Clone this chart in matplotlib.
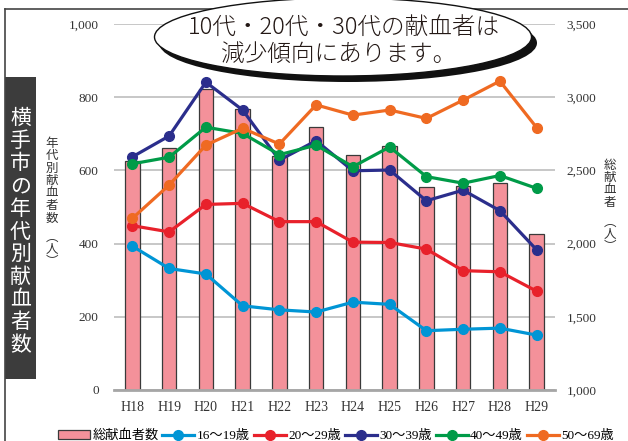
import numpy as np
import matplotlib.pyplot as plt
from matplotlib.patches import Ellipse, Rectangle
from matplotlib.lines import Line2D

plt.rcParams['font.family'] = ['Liberation Serif', 'Noto Sans CJK JP']

years = ['H18', 'H19', 'H20', 'H21', 'H22', 'H23', 'H24', 'H25', 'H26', 'H27', 'H28', 'H29']

# total donors (right axis)
total = [2564, 2650, 3054, 2921, 2600, 2799, 2603, 2667, 2385, 2393, 2412, 2066]

# donors by age group (left axis)
age_16_19 = [393, 332, 317, 230, 219, 213, 240, 234, 162, 166, 169, 150]
age_20_29 = [449, 432, 507, 510, 460, 460, 404, 403, 385, 326, 323, 270]
age_30_39 = [637, 694, 841, 765, 628, 681, 599, 601, 517, 546, 490, 383]
age_40_49 = [618, 636, 718, 701, 643, 669, 610, 664, 583, 565, 586, 551]
age_50_69 = [469, 560, 669, 715, 672, 779, 751, 765, 742, 792, 844, 717]

series = [
    ('16〜19歳', age_16_19, '#0095d5'),
    ('20〜29歳', age_20_29, '#e8212b'),
    ('30〜39歳', age_30_39, '#2b2e8c'),
    ('40〜49歳', age_40_49, '#009b48'),
    ('50〜69歳', age_50_69, '#ef6a22'),
]

W, H = 628, 441
fig = plt.figure(figsize=(W / 100, H / 100), dpi=100)

ax = fig.add_axes([114 / W, 1 - 390 / H, 441 / W, 366 / H])
ax2 = ax.twinx()

x = np.arange(len(years))

# bars on the right axis
ax2.bar(x, total, width=0.39, color='#f4919a', edgecolor='#3a3a3a', linewidth=0.9, zorder=2)
ax2.set_ylim(1000, 3500)
ax2.set_yticks(np.arange(1000, 3501, 500))
ax2.set_yticklabels(['{:,}'.format(v) for v in range(1000, 3501, 500)])
ax2.yaxis.grid(True, color='#bdbdbd', linewidth=1.2, zorder=0)
ax2.set_axisbelow(True)

# lines on the left axis, drawn over the bars
ax.set_zorder(ax2.get_zorder() + 1)
ax.patch.set_visible(False)
handles = [Rectangle((0, 0), 1, 1, facecolor='#f4919a', edgecolor='#3a3a3a', linewidth=0.9)]
labels = ['総献血者数']
for name, vals, col in series:
    ln, = ax.plot(x, vals, color=col, linewidth=2.3, marker='o', markersize=7, zorder=3)
    handles.append(ln)
    labels.append(name)

ax.set_ylim(0, 1000)
ax.set_yticks(np.arange(0, 1001, 200))
ax.set_yticklabels(['{:,}'.format(v) for v in range(0, 1001, 200)])
ax.set_xlim(-0.5, len(years) - 0.5)
ax.set_xticks(x)
ax.set_xticklabels(years)

for a in (ax, ax2):
    for s in a.spines.values():
        s.set_visible(False)
    a.tick_params(length=0, colors='#333333')
ax2.spines['bottom'].set_visible(True)
ax2.spines['bottom'].set_color('#a6a6a6')
ax2.spines['bottom'].set_linewidth(2)
ax.tick_params(axis='y', labelsize=9.5, pad=11)
ax2.tick_params(axis='y', labelsize=9.5, pad=8.5)
ax.tick_params(axis='x', labelsize=10, pad=8)

# outer frame
fig.add_artist(Line2D([5 / W, 5 / W], [0, 1 - 9 / H], transform=fig.transFigure, color='#444444', linewidth=1.2))
fig.add_artist(Line2D([5 / W, 1], [1 - 9 / H, 1 - 9 / H], transform=fig.transFigure, color='#444444', linewidth=1.2))

# title box on the left
fig.add_artist(Rectangle((5 / W, 1 - 379 / H), 31 / W, 302 / H, transform=fig.transFigure,
                         facecolor='#3c3c3c', edgecolor='none'))
title = '横手市の年代別献血者数'
for i, ch in enumerate(title):
    fig.text(20.5 / W, 1 - (118 + i * 22.7) / H, ch, color='white', fontsize=15,
             family=['Noto Sans CJK JP'], ha='center', va='center')

# axis labels (vertical)
left_lab = ['年', '代', '別', '献', '血', '者', '数', '︵', '人', '︶']
left_y = [143, 155.5, 168, 180.5, 193, 205.5, 218, 237, 250, 262]
for ch, yy in zip(left_lab, left_y):
    fig.text(52 / W, 1 - yy / H, ch, color='#333333', fontsize=9,
             family=['Noto Sans CJK JP'], ha='center', va='center')
right_lab = ['総', '献', '血', '者', '︵', '人', '︶']
right_y = [165, 177.5, 190, 202.5, 222, 235, 247]
for ch, yy in zip(right_lab, right_y):
    fig.text(610 / W, 1 - yy / H, ch, color='#333333', fontsize=9,
             family=['Noto Sans CJK JP'], ha='center', va='center')

# callout ellipse with shadow
fig.add_artist(Ellipse((348 / W, 1 - 43 / H), 378 / W, 78 / H, transform=fig.transFigure,
                       facecolor='#111111', edgecolor='none', zorder=5))
fig.add_artist(Ellipse((343 / W, 1 - 37 / H), 377 / W, 78 / H, transform=fig.transFigure,
                       facecolor='white', edgecolor='#111111', linewidth=1, zorder=6))
fig.text(344 / W, 1 - 28 / H, '10代・20代・30代の献血者は', fontsize=17, color='#231815',
         family=['Noto Sans CJK JP'], weight='light', ha='center', va='center', zorder=7)
fig.text(339 / W, 1 - 54 / H, '減少傾向にあります。', fontsize=17, color='#231815',
         family=['Noto Sans CJK JP'], weight='light', ha='center', va='center', zorder=7)

leg = fig.legend(handles, labels, loc='center', bbox_to_anchor=(336 / W, 1 - 436 / H), ncol=6,
                 frameon=False, handlelength=2.4, handletextpad=0.2,
                 columnspacing=0.3, borderpad=0,
                 prop={'family': ['Liberation Serif', 'Noto Sans CJK JP'], 'size': 9.5})

fig.savefig('out.png', dpi=100)
